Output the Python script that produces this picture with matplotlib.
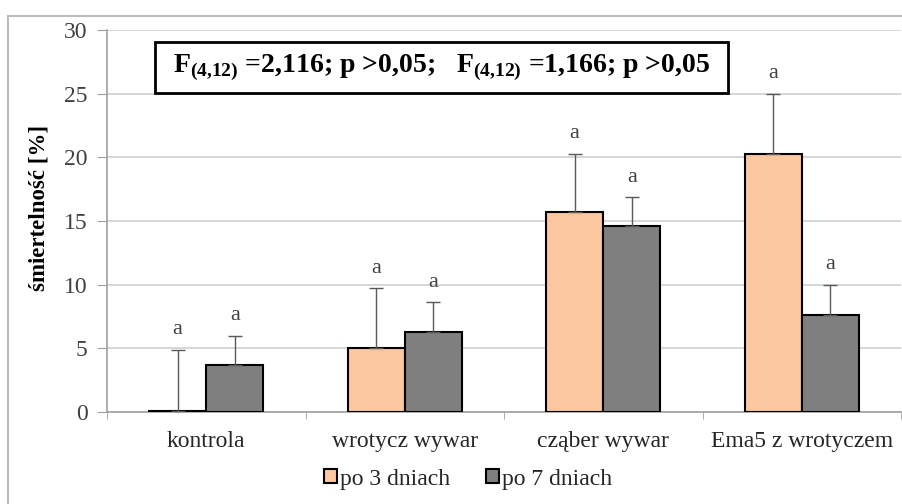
import numpy as np
import matplotlib.pyplot as plt
from matplotlib.patches import Rectangle

plt.rcParams['font.family'] = ['Liberation Serif', 'DejaVu Serif']
plt.rcParams['mathtext.fontset'] = 'custom'
plt.rcParams['mathtext.rm'] = 'Liberation Serif'
plt.rcParams['mathtext.bf'] = 'Liberation Serif:bold'

categories = ['kontrola', 'wrotycz wywar', 'cząber wywar', 'Ema5 z wrotyczem']
day3_mean = [0.1, 5.0, 15.7, 20.3]
day3_sd = [4.8, 4.7, 4.6, 4.7]
day7_mean = [3.7, 6.3, 14.6, 7.6]
day7_sd = [2.3, 2.3, 2.3, 2.4]
letters3 = ['a', 'a', 'a', 'a']
letters7 = ['a', 'a', 'a', 'a']

fig = plt.figure(figsize=(9.02, 5.04), dpi=100)
ax = fig.add_axes([107 / 902, 1 - 412 / 504, 794 / 902, 382 / 504])

x = np.arange(len(categories))
w = 0.288
err_kw = dict(ecolor='#595959', elinewidth=1.0, capsize=5, capthick=1.0)
ax.bar(x - w / 2, day3_mean, w, color='#FAC7A0', edgecolor='black', linewidth=1.5,
       yerr=[np.zeros(4), day3_sd], error_kw=err_kw, label='po 3 dniach', zorder=3)
ax.bar(x + w / 2, day7_mean, w, color='#7F7F7F', edgecolor='black', linewidth=1.5,
       yerr=[np.zeros(4), day7_sd], error_kw=err_kw, label='po 7 dniach', zorder=3)

for i in range(len(categories)):
    ax.text(x[i] - w / 2, day3_mean[i] + day3_sd[i] + 0.8, letters3[i],
            ha='center', va='bottom', fontsize=16, color='#404040')
    ax.text(x[i] + w / 2, day7_mean[i] + day7_sd[i] + 0.8, letters7[i],
            ha='center', va='bottom', fontsize=16, color='#404040')

ax.set_xlim(-0.5, len(categories) - 0.5)
ax.set_ylim(0, 30)
ax.set_yticks(range(0, 31, 5))
ax.yaxis.grid(True, color='#CFCFCF', linewidth=1.2, zorder=0)
ax.set_axisbelow(True)
ax.set_xticks(x)
ax.set_xticklabels(categories, fontsize=17, color='#262626')
ax.set_xticks(np.arange(-0.5, len(categories), 1), minor=True)
ax.tick_params(axis='x', which='major', length=0, pad=14)
ax.tick_params(axis='x', which='minor', length=5, color='#A0A0A0')
ax.tick_params(axis='y', length=7, color='#A0A0A0', labelsize=17,
               labelcolor='#404040', pad=7)
for side in ['top', 'right']:
    ax.spines[side].set_visible(False)
for side in ['left', 'bottom']:
    ax.spines[side].set_color('#A0A0A0')
    ax.spines[side].set_linewidth(1.2)

ax.set_ylabel('śmiertelność [%]', fontsize=16.5, fontweight='bold')
ax.yaxis.set_label_coords(-58 / 794, 204 / 382)

# statistics box
fig.patches.append(Rectangle((155 / 902, 1 - 93 / 504), 573 / 902, 51 / 504,
                             transform=fig.transFigure, facecolor='white',
                             edgecolor='black', linewidth=2, zorder=5))
fig.text(441.5 / 902, 1 - 67.5 / 504,
         r'F$_{\mathbf{(4{,}12)}}$ =2,116; p >0,05;   F$_{\mathbf{(4{,}12)}}$ =1,166; p >0,05',
         ha='center', va='center', fontsize=20, fontweight='bold', zorder=6)

# outer frame
fig.patches.append(Rectangle((8 / 902, -0.02), 1.0, 1 - 16 / 504 + 0.02,
                             transform=fig.transFigure, fill=False,
                             edgecolor='#BDBDBD', linewidth=1.5, zorder=0))

fig.legend(loc='center', bbox_to_anchor=(468 / 902, 1 - 479 / 504), ncol=2,
           frameon=False, fontsize=17, handlelength=0.55, handleheight=0.55,
           handletextpad=0.15, columnspacing=1.5, labelcolor='#262626')

fig.savefig('out.png', dpi=100)
